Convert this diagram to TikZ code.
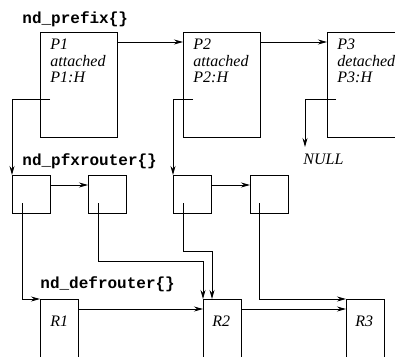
\documentclass[tikz,border=0pt]{standalone}
\usepackage{fontspec}
\setmainfont{Liberation Serif}
\setmonofont{Liberation Mono}
\usetikzlibrary{arrows.meta, positioning}

\tikzset{
  pbox/.style={draw, anchor=north west, minimum width=77pt, minimum height=105pt, inner sep=0pt},
  sbox/.style={draw, anchor=north west, minimum width=38pt, minimum height=38pt, inner sep=0pt},
  rbox/.style={draw, anchor=north west, minimum width=38pt, minimum height=80pt, inner sep=0pt},
  boxtext/.style={anchor=north west, inner sep=0pt, align=left, font=\fontsize{16}{16.5}\selectfont\itshape},
  rtext/.style={anchor=base west, inner sep=0pt, font=\fontsize{16}{18}\selectfont\itshape},
  structname/.style={anchor=base west, inner sep=0pt, font=\fontsize{16}{18}\selectfont\ttfamily\bfseries},
}

\begin{document}
\begin{tikzpicture}[x=1pt, y=-1pt, >={Stealth[length=9pt, width=5pt, inset=3pt]}, line width=0.8pt]

\useasboundingbox (0,0) rectangle (395,356);
\clip (0,0) rectangle (395,356);

% Prefix list
\node[structname] (prefixname) at (22,23) {nd\_prefix\{\}};
\node[pbox] (p1) at (40,32) {};
\node[pbox] (p2) at (183,32) {};
\node[pbox] (p3) at (327,32) {};
\node[boxtext] (p1txt) at ([shift={(10,7)}]p1.north west) {P1\\attached\\P1:H};
\node[boxtext] (p2txt) at ([shift={(10,7)}]p2.north west) {P2\\attached\\P2:H};
\node[boxtext] (p3txt) at ([shift={(10,7)}]p3.north west) {P3\\detached\\P3:H};

\draw[->] ([yshift=-10pt]p1.north east) -- ([yshift=-10pt]p2.north west);
\draw[->] ([yshift=-10pt]p2.north east) -- ([yshift=-10pt]p3.north west);

% Prefix -> router list heads
\coordinate (p1h) at (50,99);
\coordinate (p2h) at (193,99);
\coordinate (p3h) at (336,99);
\coordinate (nullptr) at (305,147);
\node[rtext] (null) at (303,164) {NULL};

% Pfxrouter lists
\node[structname] (pfxname) at (22,165) {nd\_pfxrouter\{\}};
\node[sbox] (s1) at (12,175) {};
\node[sbox] (s2) at (88,175) {};
\node[sbox] (s3) at (173,175) {};
\node[sbox] (s4) at (250,175) {};

\draw[->] (p1h) -| (s1.north west);
\draw[->] (p2h) -| (s3.north west);
\draw[->] (p3h) -| (nullptr);

\draw[->] ([yshift=-10pt]s1.north east) -- ([yshift=-10pt]s2.north west);
\draw[->] ([yshift=-10pt]s3.north east) -- ([yshift=-10pt]s4.north west);

% Default router list
\node[structname] (defname) at (40,288) {nd\_defrouter\{\}};
\node[rbox] (r1) at (40,299) {};
\node[rbox] (r2) at (203,299) {};
\node[rbox] (r3) at (346,299) {};
\node[rtext] (r1txt) at ([shift={(10,27)}]r1.north west) {R1};
\node[rtext] (r2txt) at ([shift={(9,27)}]r2.north west) {R2};
\node[rtext] (r3txt) at ([shift={(9,27)}]r3.north west) {R3};

\draw[->] ([yshift=-10pt]r1.north east) -- ([yshift=-10pt]r2.north west);
\draw[->] ([yshift=-10pt]r2.north east) -- ([yshift=-10pt]r3.north west);

% Pfxrouter -> defrouter
\coordinate (s1h) at (22,203);
\coordinate (s2h) at (98,203);
\coordinate (s3h) at (183,203);
\coordinate (s4h) at (259,203);
\draw[->] (s1h) |- (r1.north west);
\draw[->] (s2h) -- ++(0,58) -| (r2.north west);
\draw[->] (s3h) -- ++(0,48) -| ([xshift=9pt]r2.north west);
\draw[->] (s4h) |- (r3.north west);

\end{tikzpicture}
\end{document}
